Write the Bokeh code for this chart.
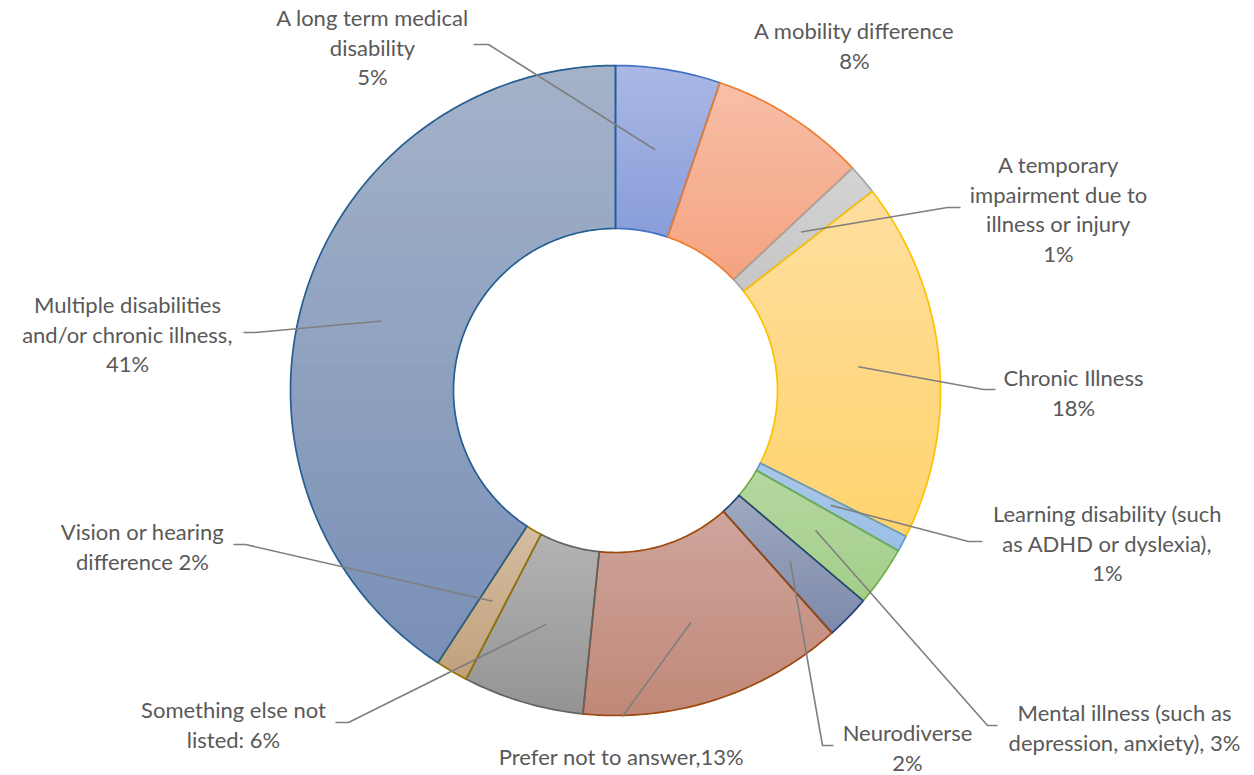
import numpy as np
from bokeh.plotting import figure
from bokeh.models import Range1d, ColumnDataSource
from bokeh.embed import file_html
from bokeh.resources import INLINE
from bokeh.core.properties import value

# ---------------- data ----------------
categories = [
    "A long term medical disability",
    "A mobility difference",
    "A temporary impairment due to illness or injury",
    "Chronic Illness",
    "Learning disability (such as ADHD or dyslexia)",
    "Mental illness (such as depression, anxiety)",
    "Neurodiverse",
    "Prefer not to answer",
    "Something else not listed",
    "Vision or hearing difference",
    "Multiple disabilities and/or chronic illness",
]
shares = [5.2, 7.8, 1.5, 17.9, 0.8, 3.0, 2.2, 13.2, 6.0, 1.6, 40.8]
label_lines = [
    ["A long term medical", "disability", "5%"],
    ["A mobility difference", "8%"],
    ["A temporary", "impairment due to", "illness or injury", "1%"],
    ["Chronic Illness", "18%"],
    ["Learning disability (such", "as ADHD or dyslexia),", "1%"],
    ["Mental illness (such as", "depression, anxiety), 3%"],
    ["Neurodiverse", "2%"],
    ["Prefer not to answer,13%"],
    ["Something else not", "listed: 6%"],
    ["Vision or hearing", "difference 2%"],
    ["Multiple disabilities", "and/or chronic illness,", "41%"],
]

# ---------------- styles / layout ----------------
fill_top = ["#aab8e4", "#f7bfa8", "#d3d3d3", "#fedf9e", "#a8c8ea", "#b5d8a1",
            "#a0a8c0", "#cfa59c", "#b3b3b3", "#d5bca1", "#a4b3c9"]
fill_bottom = ["#889dda", "#f5a380", "#c6c6c6", "#ffd36e", "#9cbfe6", "#a3ce89",
               "#7d8aab", "#c08878", "#949494", "#c1a17c", "#798fb6"]
edge = ["#4472c4", "#ed7d31", "#a5a5a5", "#ffc000", "#5b9bd5", "#70ad47",
        "#264478", "#9e480e", "#636363", "#997300", "#255e91"]

W, H = 1254, 775
CX, CY = 615.0, 390.0
R_OUT, R_IN = 325.0, 162.0
R_LEAD = 244.0
TEXT_COLOR = "#595959"
LEAD_COLOR = "#7f7f7f"
LINE_H = 29.5

# label block: centre x, first line y
label_pos = [(372, 17), (854, 30), (1058, 164), (1073, 377), (1107, 513),
             (1124, 712), (907, 732), (621, 756), (233, 709), (142, 531), (127, 304)]
# leader line: label-side points (elbow, end); None = no leader
leader_tail = [[(488, 44), (473, 44)], None, [(947, 207), (960, 207)],
               [(983, 389), (995, 389)], [(968, 541), (982, 541)],
               [(987, 725), (997, 725)], [(822, 745), (833, 745)],
               [(622, 716)], [(348, 722), (335, 722)], [(245, 544), (233, 544)],
               [(255, 332), (243, 332)]]


def pt(frac, r):
    a = 2 * np.pi * frac
    return CX + r * np.sin(a), CY - r * np.cos(a)


def wedge_poly(f0, f1):
    n = max(8, int((f1 - f0) * 400))
    t = np.linspace(f0, f1, n)
    ox, oy = pt(t, R_OUT)
    ix, iy = pt(t[::-1], R_IN)
    return list(zip(np.concatenate([ox, ix]), np.concatenate([oy, iy])))


def clip_half(pts, f):
    out = []
    n = len(pts)
    for i in range(n):
        cur, prev = pts[i], pts[i - 1]
        fc, fp = f(cur), f(prev)
        if fc >= 0:
            if fp < 0:
                t = fp / (fp - fc)
                out.append((prev[0] + t * (cur[0] - prev[0]), prev[1] + t * (cur[1] - prev[1])))
            out.append(cur)
        elif fp >= 0:
            t = fp / (fp - fc)
            out.append((prev[0] + t * (cur[0] - prev[0]), prev[1] + t * (cur[1] - prev[1])))
    return out


def mix(c0, c1, t):
    a = np.array([int(c0[i:i + 2], 16) for i in (1, 3, 5)], float)
    b = np.array([int(c1[i:i + 2], 16) for i in (1, 3, 5)], float)
    c = np.round(a + (b - a) * t).astype(int)
    return "#%02x%02x%02x" % tuple(c)


total = sum(shares)
fracs = np.array(shares) / total
starts = np.concatenate([[0], np.cumsum(fracs)[:-1]])
ends = np.cumsum(fracs)

p = figure(width=W, height=H, x_range=Range1d(0, W), y_range=Range1d(H, 0),
           output_backend="svg", toolbar_location=None, min_border=0)
p.axis.visible = False
p.grid.visible = False
p.outline_line_color = None
p.background_fill_color = "white"

# gradient fills (vertical, per slice)
band_xs, band_ys, band_col = [], [], []
out_xs, out_ys = [], []
NB = 32
for k in range(len(shares)):
    poly = wedge_poly(starts[k], ends[k])
    ys_all = [q[1] for q in poly]
    y_min, y_max = min(ys_all), max(ys_all)
    h = (y_max - y_min) / NB
    for b in range(NB):
        y0 = y_min + b * h - 0.6
        y1 = y_min + (b + 1) * h + 0.6
        c = clip_half(poly, lambda q, y0=y0: q[1] - y0)
        if c:
            c = clip_half(c, lambda q, y1=y1: y1 - q[1])
        if len(c) >= 3:
            band_xs.append([q[0] for q in c])
            band_ys.append([q[1] for q in c])
            band_col.append(mix(fill_top[k], fill_bottom[k], (b + 0.5) / NB))
    out_xs.append([q[0] for q in poly] + [poly[0][0]])
    out_ys.append([q[1] for q in poly] + [poly[0][1]])

p.patches("xs", "ys", source=ColumnDataSource(dict(xs=band_xs, ys=band_ys, c=band_col)),
          fill_color="c", line_color=None)

for k in range(len(shares)):
    p.line(out_xs[k], out_ys[k], line_color=edge[k], line_width=1.7, line_join="miter")

# leader lines (start at the middle of each slice)
for k in range(len(shares)):
    if leader_tail[k] is None:
        continue
    mid = (starts[k] + ends[k]) / 2
    sx, sy = pt(mid, R_LEAD)
    xs = [sx] + [q[0] for q in leader_tail[k]]
    ys = [sy] + [q[1] for q in leader_tail[k]]
    p.line(xs, ys, line_color=LEAD_COLOR, line_width=1.6)

# labels
tx, ty, tt = [], [], []
for k in range(len(shares)):
    cx, y0 = label_pos[k]
    for i, s in enumerate(label_lines[k]):
        tx.append(cx)
        ty.append(y0 + i * LINE_H)
        tt.append(s)
p.text(tx, ty, text=tt, text_align="center", text_baseline="middle",
       text_font=value("Lato"), text_font_size="22px", text_color=TEXT_COLOR)

open("out.html", "w").write(file_html(p, INLINE))
